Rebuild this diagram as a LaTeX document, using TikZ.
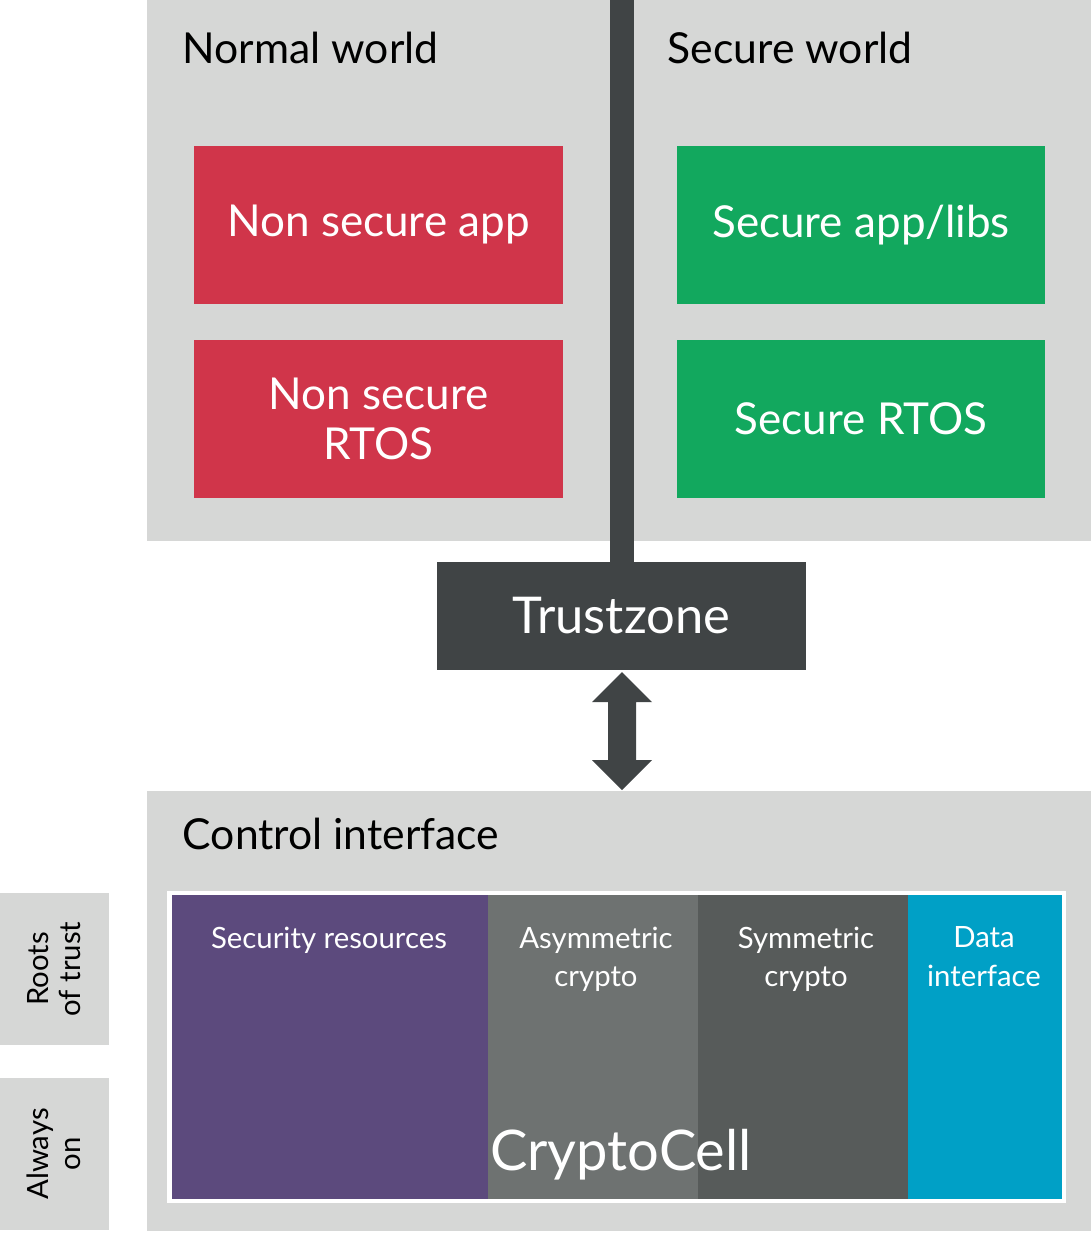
\documentclass[tikz,border=0pt]{standalone}
\usepackage{fontspec}
\setmainfont{Lato}
\definecolor{pan}{HTML}{D6D7D6}
\definecolor{redb}{HTML}{D0354A}
\definecolor{grnb}{HTML}{12A85E}
\definecolor{dk}{HTML}{404445}
\definecolor{purp}{HTML}{5C4A7D}
\definecolor{gr1}{HTML}{6E7271}
\definecolor{gr2}{HTML}{575B5A}
\definecolor{blu}{HTML}{00A0C6}
\begin{document}
\begin{tikzpicture}[x=0.75pt,y=-0.75pt,
  box/.style={draw=none,text=white,align=center,font=\fontsize{33}{38}\selectfont},
  ttl/.style={anchor=west,font=\fontsize{32}{36}\selectfont},
  sm/.style={text=white,align=center,anchor=north,font=\fontsize{22}{29}\selectfont},
  side/.style={fill=pan,align=center,font=\fontsize{22}{24}\selectfont}]
\useasboundingbox (0,0) rectangle (1091,1233);
\fill[pan] (147,0) rectangle (1091,541);
\fill[dk] (610,0) rectangle (634,565);
\node[ttl] (nw) at (178,48) {Normal world};
\node[ttl] (sw) at (663,48) {Secure world};
\fill[redb] (194,146) rectangle (563,304); \node[box] (nsa) at (378.5,225) {Non secure app};
\fill[redb] (194,340) rectangle (563,498); \node[box] (nsr) at (378.5,419) {Non secure\\RTOS};
\fill[grnb] (677,146) rectangle (1045,304); \node[box] (sa) at (861,225) {Secure app/libs};
\fill[grnb] (677,340) rectangle (1045,498); \node[box] (sr) at (861,419) {Secure RTOS};
\fill[dk] (437,562) rectangle (806,670); \node[box,font=\fontsize{38}{42}\selectfont] (tz) at (621.5,616) {Trustzone};
\fill[dk] (622,672) -- (652,702) -- (636,702) -- (636,760) -- (652,760) -- (622,790) -- (592,760) -- (608,760) -- (608,702) -- (592,702) -- cycle;
\fill[pan] (147,791) rectangle (1091,1231);
\node[ttl] (ci) at (178,834) {Control interface};
\fill[white] (167,891) rectangle (1066,1203);
\fill[purp] (172,895) rectangle (488,1199);
\fill[gr1] (488,895) rectangle (698,1199);
\fill[gr2] (698,895) rectangle (908,1199);
\fill[blu] (908,895) rectangle (1062,1199);
\node[sm] (sr2) at (329,922) {Security resources};
\node[sm] (ac) at (596,922) {Asymmetric\\crypto};
\node[sm] (sc) at (806,922) {Symmetric\\crypto};
\node[sm] (di) at (984,922) {Data\\interface};
\node[text=white,font=\fontsize{42}{46}\selectfont] (cc) at (621,1155) {CryptoCell};
\fill[pan] (0,893) rectangle (109,1045);
\fill[pan] (0,1078) rectangle (109,1230);
\node[align=center,rotate=90,font=\fontsize{22}{24}\selectfont] (rt) at (54,969) {Roots\\of trust};
\node[align=center,rotate=90,font=\fontsize{22}{24}\selectfont] (ao) at (54,1154) {Always\\on};
\end{tikzpicture}
\end{document}
